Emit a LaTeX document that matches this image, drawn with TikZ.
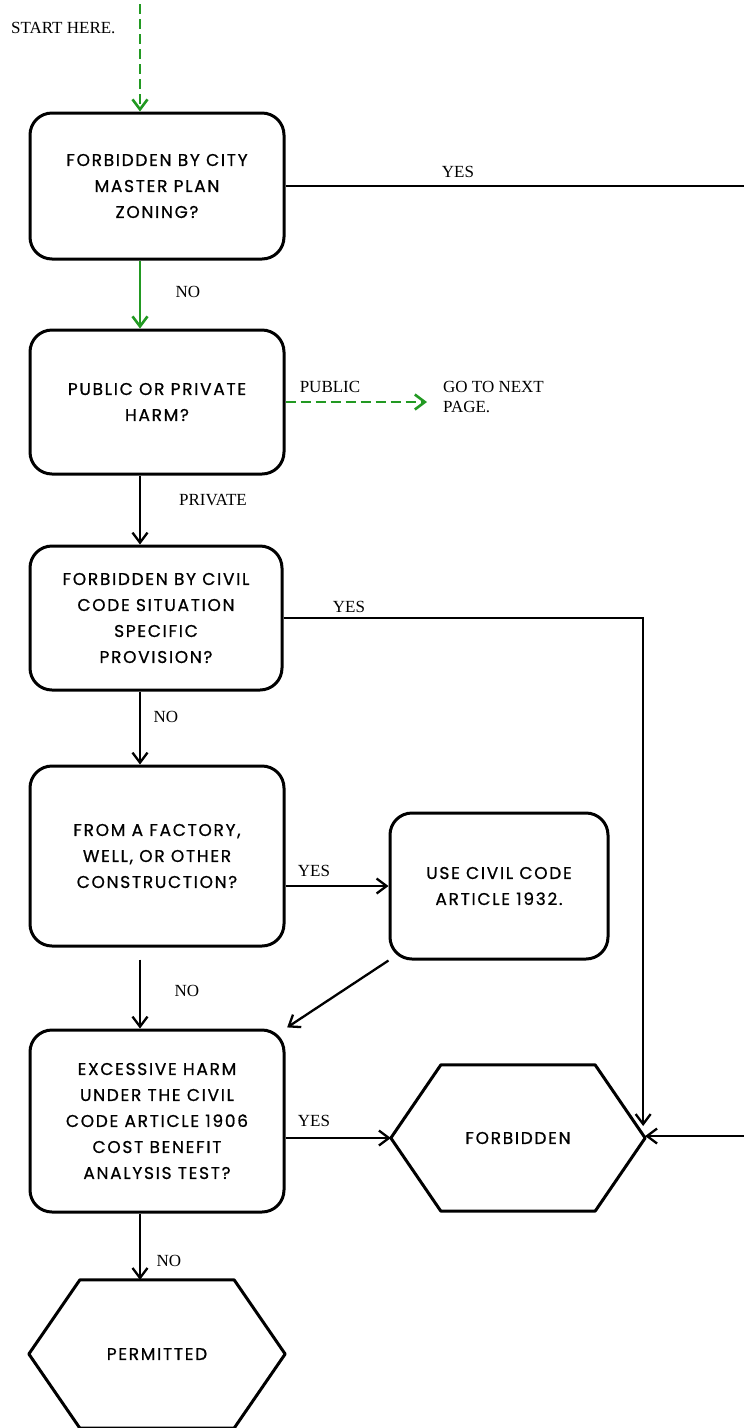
\documentclass[tikz,border=0pt]{standalone}
\usepackage{fontspec}
\setmainfont{Liberation Serif}
\newfontfamily\boxfont{Poppins}[LetterSpace=10, FakeBold=0.8]
\usetikzlibrary{arrows.meta}
\definecolor{flowgreen}{RGB}{34,153,34}

\begin{document}
\begin{tikzpicture}[x=1pt, y=-1pt, line width=2.3pt,
  >={Straight Barb[length=10pt, width=15pt]},
  qbox/.style={draw, line width=3pt, rounded corners=22pt, minimum width=254pt,
    minimum height=146pt, align=center, inner sep=0pt,
    font=\boxfont\fontsize{17}{26}\selectfont},
  endbox/.style={minimum width=252pt, minimum height=144pt, inner sep=0pt,
    font=\boxfont\fontsize{17}{26}\selectfont},
  hexline/.style={line width=3pt, line join=round},
  tag/.style={font=\fontsize{17}{20}\selectfont, inner sep=0pt, align=left},
  gline/.style={draw=flowgreen, line width=2.6pt},
  gdash/.style={gline, dash pattern=on 10pt off 5pt}]
\useasboundingbox (0,0) rectangle (744,1428);
% the main column of questions runs down x=140
\coordinate (spine) at (140,0);
\coordinate (start) at (140,4);
\node[tag, anchor=west] (starthere) at (10,28) {START HERE.};
\node[qbox] (zoning) at (157,186) {FORBIDDEN BY CITY\\MASTER PLAN\\ZONING?};
\node[qbox, minimum height=144pt] (harm) at (157,402) {PUBLIC OR PRIVATE\\HARM?};
\node[qbox, minimum width=252pt, minimum height=144pt] (civil) at (156,618) {FORBIDDEN BY CIVIL\\CODE SITUATION\\SPECIFIC\\PROVISION?};
\node[qbox, minimum height=180pt] (factory) at (157,856) {FROM A FACTORY,\\WELL, OR OTHER\\CONSTRUCTION?};
\node[qbox, minimum width=218pt] (art1932) at (499,886) {USE CIVIL CODE\\ARTICLE 1932.};
\node[qbox, minimum height=182pt] (excess) at (157,1121) {EXCESSIVE HARM\\UNDER THE CIVIL\\CODE ARTICLE 1906\\COST BENEFIT\\ANALYSIS TEST?};
% the two outcomes are hexagons
\node[endbox] (forbid) at (518,1138) {FORBIDDEN};
\draw[hexline] (forbid.west) -- ([xshift=50pt]forbid.north west) -- ([xshift=-50pt]forbid.north east)
  -- (forbid.east) -- ([xshift=-50pt]forbid.south east) -- ([xshift=50pt]forbid.south west) -- cycle;
\node[endbox, minimum width=254pt, minimum height=146pt] (permit) at (157,1354) {PERMITTED};
\draw[hexline] (permit.west) -- ([xshift=51pt]permit.north west) -- ([xshift=-51pt]permit.north east)
  -- (permit.east) -- ([xshift=-51pt]permit.south east) -- ([xshift=51pt]permit.south west) -- cycle;
% green: the way in
\draw[gdash, ->] (start) -- (spine |- zoning.north);
\draw[gline, ->] (spine |- zoning.south) -- (spine |- harm.north);
\node[tag] (no1) at (188,292) {NO};
\node[tag, anchor=west, inner xsep=15pt] (nextpg) at (427,397) {GO TO NEXT\\PAGE.};
\draw[gdash, ->] (harm.east) -- (harm.east -| nextpg.west);
\node[tag] (public) at (330,387) {PUBLIC};
% YES from zoning goes off the right edge and comes back into FORBIDDEN
\coordinate (rim) at (749,186);
\draw[->] (zoning.east) -- (rim) |- ([yshift=2pt]forbid.east);
\node[tag] (yes1) at (458,172) {YES};
\draw[->] (spine |- harm.south) -- (spine |- civil.north);
\node[tag] (private) at (213,500) {PRIVATE};
\draw[->] (civil.east) -| ([xshift=-2pt, yshift=12pt]forbid.east);
\node[tag] (yes2) at (349,607) {YES};
\draw[->] (spine |- civil.south) -- (spine |- factory.north);
\node[tag] (no2) at (166,717) {NO};
\draw[->] (factory.east |- art1932.west) -- (art1932.west);
\node[tag] (yes3) at (314,871) {YES};
\draw[->, shorten >=2pt] (art1932.south west) -- (excess.north east);
\draw[->, shorten <=12pt] (spine |- factory.south) -- (spine |- excess.north);
\node[tag] (no3) at (187,991) {NO};
\draw[->] (excess.east |- forbid.west) -- (forbid.west);
\node[tag] (yes4) at (314,1121) {YES};
\draw[->] (spine |- excess.south) -- (spine |- permit.north);
\node[tag] (no4) at (169,1261) {NO};
\end{tikzpicture}
\end{document}
